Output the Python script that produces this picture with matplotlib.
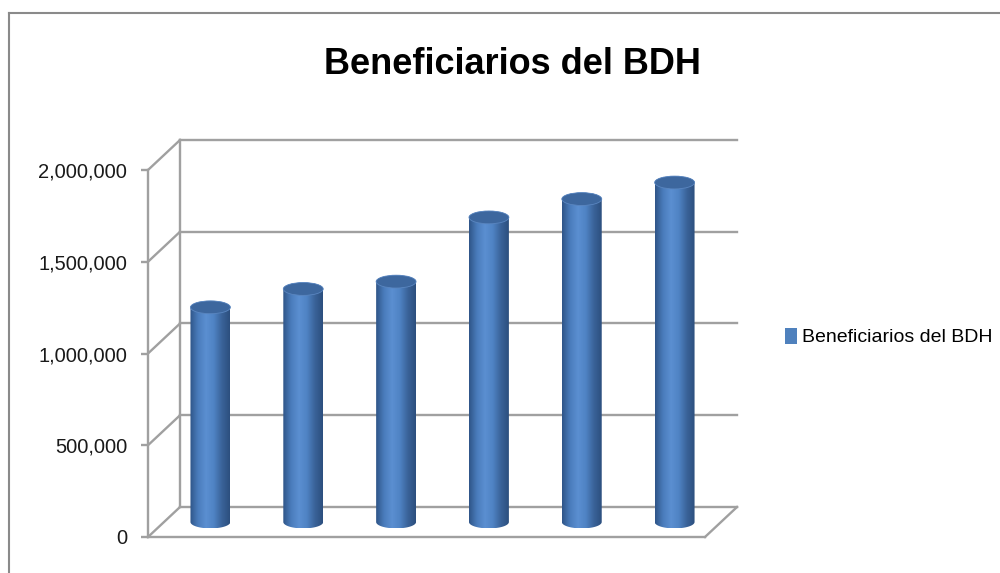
import numpy as np
import matplotlib
matplotlib.use("Agg")
import matplotlib.pyplot as plt
from matplotlib.patches import Ellipse, Patch
from matplotlib.path import Path
from matplotlib.colors import LinearSegmentedColormap
from matplotlib.lines import Line2D
from matplotlib.ticker import FuncFormatter

plt.rcParams['font.family'] = ['Liberation Sans', 'DejaVu Sans']

# --- data ---
categories = [1, 2, 3, 4, 5, 6]
beneficiarios = [1170000, 1270000, 1310000, 1660000, 1760000, 1850000]
series_name = "Beneficiarios del BDH"
title = "Beneficiarios del BDH"
y_ticks = [0, 500000, 1000000, 1500000, 2000000]

# --- style / pseudo-3d geometry (data units of the front plane) ---
GRID = "#a0a0a0"
DEPTH_X = 0.345      # back wall offset, category units
DEPTH_Y = 163500     # back wall offset, value units
R_X = 0.215          # cylinder radius
R_Y = 35000          # ellipse half height
body_cmap = LinearSegmentedColormap.from_list(
    "cyl", ["#2f5588", "#4a7cbc", "#5b8fd1", "#4f83c4", "#3a6399", "#2c4f7e"])

fig = plt.figure(figsize=(10, 5.73), dpi=100)
ax = fig.add_axes([0.148, 36 / 573, 0.557, 367 / 573])
ax.set_xlim(-0.5, len(categories) - 0.5)
ax.set_ylim(0, y_ticks[-1])
xmin, xmax = ax.get_xlim()

# back wall gridlines + diagonals to the front axis
for t in y_ticks:
    ax.plot([xmin + DEPTH_X, xmax + DEPTH_X], [t + DEPTH_Y, t + DEPTH_Y],
            color=GRID, lw=1.7, clip_on=False, zorder=1)
    ax.plot([xmin, xmin + DEPTH_X], [t, t + DEPTH_Y],
            color=GRID, lw=1.7, clip_on=False, zorder=1)
ax.plot([xmin + DEPTH_X] * 2, [DEPTH_Y, y_ticks[-1] + DEPTH_Y],
        color=GRID, lw=1.7, clip_on=False, zorder=1)
ax.plot([xmax, xmax + DEPTH_X], [0, DEPTH_Y],
        color=GRID, lw=1.7, clip_on=False, zorder=1)

# cylinders
grad = np.linspace(0, 1, 128).reshape(1, -1)
for i, v in enumerate(beneficiarios):
    cx = i + DEPTH_X / 2
    base = DEPTH_Y / 2
    top = v + DEPTH_Y / 2
    th_b = np.linspace(np.pi, 2 * np.pi, 60)
    th_t = np.linspace(0, np.pi, 60)
    pts = np.concatenate([
        np.column_stack([cx + R_X * np.cos(th_b), base + R_Y * np.sin(th_b)]),
        np.column_stack([cx + R_X * np.cos(th_t), top + R_Y * np.sin(th_t)]),
    ])
    clip = Path(np.vstack([pts, pts[:1]]), closed=True)
    im = ax.imshow(grad, cmap=body_cmap, aspect="auto", interpolation="bilinear",
                   extent=[cx - R_X, cx + R_X, base - R_Y, top + R_Y],
                   zorder=3, clip_on=True)
    im.set_clip_path(clip, transform=ax.transData)
    ax.add_patch(Ellipse((cx, top), 2 * R_X, 2 * R_Y, facecolor="#3d679e",
                         edgecolor="#5a86c0", lw=0.6, zorder=4, clip_on=False))

ax.set_xlim(xmin, xmax)
ax.set_ylim(0, y_ticks[-1])

ax.set_xticks([])
ax.set_yticks(y_ticks)
ax.yaxis.set_major_formatter(FuncFormatter(lambda v, p: f"{int(v):,}"))
ax.tick_params(axis="y", length=5, width=1.7, color=GRID, pad=10,
               labelsize=14.5, labelcolor="#1a1a1a")
for s in ["top", "right"]:
    ax.spines[s].set_visible(False)
for s in ["left", "bottom"]:
    ax.spines[s].set_color(GRID)
    ax.spines[s].set_linewidth(1.7)
ax.patch.set_visible(False)

fig.text(0.512, 1 - 65 / 573, title, ha="center", va="center",
         fontsize=26, fontweight="bold", color="black")

fig.legend(handles=[Patch(facecolor="#4f81bd", label=series_name)],
           loc="center left", bbox_to_anchor=(0.785, 1 - 337 / 573),
           frameon=False, fontsize=14, handlelength=0.6, handleheight=0.9,
           handletextpad=0.3, borderpad=0, borderaxespad=0)

# outer chart frame (cut off at the right and bottom)
fig.add_artist(Line2D([0.009, 1.0], [1 - 13 / 573] * 2, transform=fig.transFigure,
                      color="#8a8a8a", lw=1.5))
fig.add_artist(Line2D([0.009, 0.009], [0, 1 - 13 / 573], transform=fig.transFigure,
                      color="#8a8a8a", lw=1.5))

fig.savefig("out.png", dpi=100)
